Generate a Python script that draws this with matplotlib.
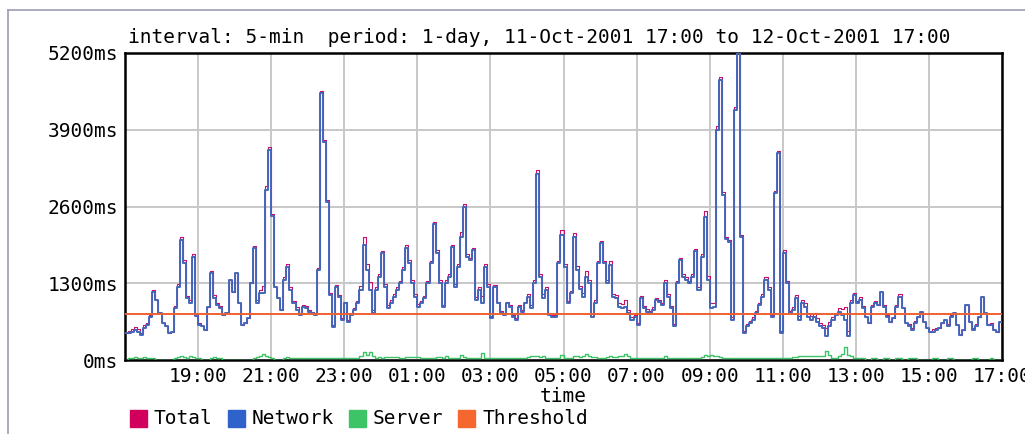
import numpy as np
import matplotlib
matplotlib.use("Agg")
import matplotlib.pyplot as plt
from matplotlib.patches import Rectangle
from matplotlib.lines import Line2D

# 5-minute response times (ms), 11-Oct-2001 17:00 -> 12-Oct-2001 17:00, one row per hour
network_ms = [
    450, 450, 480, 510, 480, 420, 540, 590, 730, 1150, 1020, 790,      # 17:00
    620, 570, 450, 480, 880, 1240, 2030, 1640, 1050, 960, 1750, 740,   # 18:00
    590, 570, 510, 900, 1470, 1050, 930, 880, 760, 790, 1360, 1160,    # 19:00
    1470, 960, 590, 620, 710, 1300, 1890, 960, 1130, 1140, 2880, 3550, # 20:00
    2440, 1240, 1050, 850, 1360, 1580, 1190, 960, 850, 760, 900, 880,  # 21:00
    820, 790, 760, 1530, 4520, 3700, 2680, 1100, 560, 1240, 1070, 680, # 22:00
    960, 650, 760, 850, 960, 1190, 1950, 1530, 1190, 790, 1190, 1410,  # 23:00
    1810, 1240, 880, 960, 1070, 1190, 1300, 1530, 1890, 1640, 1300, 1070,  # 00:00
    900, 960, 1050, 1300, 1640, 2300, 1810, 1300, 900, 1300, 1410, 1920,   # 01:00
    1240, 1580, 2090, 2600, 1750, 1690, 1860, 1020, 1190, 960, 1580, 1240, # 02:00
    710, 1240, 960, 790, 760, 960, 900, 730, 680, 900, 820, 960,       # 03:00
    1070, 880, 1300, 3150, 1400, 1050, 1190, 760, 730, 730, 1640, 2120,   # 04:00
    1580, 960, 1130, 2090, 1530, 1210, 1070, 1410, 1300, 730, 960, 1640,  # 05:00
    1980, 1640, 1300, 1610, 1070, 1050, 900, 880, 900, 790, 680, 730,     # 06:00
    590, 1050, 880, 820, 790, 850, 1020, 990, 930, 1300, 1070, 880,       # 07:00
    570, 1300, 1690, 1410, 1360, 1300, 1410, 1840, 1190, 1750, 2430, 1360,  # 08:00
    880, 900, 3900, 4740, 2800, 2050, 2000, 680, 4240, 5200, 2080, 450,     # 09:00
    570, 620, 680, 790, 930, 1070, 1360, 1190, 730, 2830, 3500, 450,       # 10:00
    1820, 1300, 790, 850, 1050, 680, 960, 900, 730, 680, 730, 650,         # 11:00
    570, 540, 400, 570, 680, 760, 820, 760, 680, 400, 960, 1100,           # 12:00
    960, 1020, 880, 730, 620, 900, 960, 930, 1160, 900, 730, 650,          # 13:00
    710, 900, 1070, 880, 620, 570, 510, 620, 730, 820, 650, 540,           # 14:00
    480, 480, 510, 540, 620, 680, 570, 730, 790, 590, 420, 510,            # 15:00
    930, 650, 510, 570, 730, 1070, 790, 590, 590, 510, 480, 650,           # 16:00
]
server_ms = [
    0, 40, 40, 50, 40, 40, 50, 40, 40, 40, 0, 0,
    0, 0, 0, 0, 40, 50, 60, 50, 40, 60, 50, 40,
    40, 0, 0, 0, 40, 50, 40, 40, 0, 0, 0, 0,
    0, 0, 0, 0, 0, 0, 40, 50, 60, 110, 60, 50,
    40, 0, 0, 0, 40, 50, 40, 40, 40, 30, 30, 30,
    30, 30, 30, 30, 30, 30, 30, 30, 30, 30, 30, 30,
    30, 30, 30, 30, 40, 60, 140, 90, 130, 60, 40, 50,
    40, 50, 50, 50, 50, 50, 40, 40, 50, 50, 50, 50,
    50, 40, 40, 30, 40, 40, 50, 50, 40, 60, 40, 30,
    40, 40, 80, 50, 40, 30, 30, 40, 40, 120, 40, 40,
    30, 30, 30, 40, 30, 30, 30, 40, 30, 30, 30, 30,
    50, 60, 60, 60, 50, 60, 40, 40, 30, 30, 40, 80,
    40, 40, 40, 60, 60, 50, 60, 100, 60, 50, 50, 40,
    40, 40, 50, 60, 50, 50, 60, 70, 110, 60, 40, 40,
    40, 40, 40, 40, 40, 40, 30, 30, 40, 60, 40, 40,
    40, 40, 40, 40, 40, 40, 40, 40, 40, 50, 90, 70,
    90, 70, 60, 50, 40, 40, 40, 40, 40, 40, 40, 40,
    40, 40, 40, 40, 40, 40, 40, 40, 40, 40, 40, 40,
    40, 40, 40, 50, 50, 60, 60, 60, 60, 60, 60, 60,
    60, 60, 150, 80, 40, 40, 60, 100, 220, 90, 60, 40,
    40, 40, 40, 0, 0, 40, 40, 0, 0, 40, 40, 0,
    0, 40, 40, 0, 0, 40, 40, 40, 0, 0, 0, 0,
    0, 40, 40, 0, 0, 0, 40, 40, 0, 0, 0, 0,
    0, 0, 40, 40, 0, 0, 0, 0, 40, 0, 0, 0,
]
threshold_ms = 775

y_ticks = [0, 1300, 2600, 3900, 5200]
hour_ticks = [2, 4, 6, 8, 10, 12, 14, 16, 18, 20, 22, 24]
hour_labels = ["19:00", "21:00", "23:00", "01:00", "03:00", "05:00",
               "07:00", "09:00", "11:00", "13:00", "15:00", "17:00"]
legend_names = ["Total", "Network", "Server", "Threshold"]
legend_colors = ["#d0005c", "#3062cc", "#3cc466", "#f5672f"]

title = "interval: 5-min  period: 1-day, 11-Oct-2001 17:00 to 12-Oct-2001 17:00"

mono = "DejaVu Sans Mono"
fsize = 14

W, H = 1025, 434
fig = plt.figure(figsize=(W / 100, H / 100), dpi=100)
fig.patch.set_facecolor("white")
ax = fig.add_axes([125 / W, 1 - 360 / H, 877 / W, 307 / H])

network = np.array(network_ms, dtype=float)
server = np.array(server_ms, dtype=float)
total = network + server
hours = np.arange(len(network) + 1) * 5 / 60.0


def stepped(v):
    return np.append(v, v[-1])


ax.plot(hours, stepped(total), drawstyle="steps-post", color="#c8106a", lw=0.8, zorder=3)
ax.plot(hours, stepped(network), drawstyle="steps-post", color="#4466bb", lw=1.4, zorder=4)
ax.plot(hours, stepped(server), drawstyle="steps-post", color="#3cc466", lw=1.0, zorder=3)
ax.axhline(threshold_ms, color="#f06030", lw=1.4, zorder=5)

ax.set_xlim(0, 24)
ax.set_ylim(0, 5200)
ax.set_yticks(y_ticks)
ax.set_yticklabels([f"{v}ms" for v in y_ticks], fontfamily=mono, fontsize=fsize)
ax.set_xticks(hour_ticks)
ax.set_xticklabels(hour_labels, fontfamily=mono, fontsize=fsize)
ax.tick_params(length=0, pad=5)
ax.grid(True, color="#c8c8c8", lw=1.4, zorder=1)
ax.set_axisbelow(True)
for s in ax.spines.values():
    s.set_linewidth(1.8)
    s.set_color("black")

ax.text(0.003, 1.02, title, transform=ax.transAxes, ha="left", va="bottom",
        fontfamily=mono, fontsize=fsize)
fig.text(563.5 / W, 1 - 396 / H, "time", ha="center", va="center",
         fontfamily=mono, fontsize=fsize)

# legend row
char_w = 11.9
x = 130
for name, col in zip(legend_names, legend_colors):
    fig.patches.append(Rectangle((x / W, 1 - 427 / H), 17 / W, 17 / H,
                                 transform=fig.transFigure, color=col))
    fig.text((x + 24) / W, 1 - 418 / H, name, ha="left", va="center",
             fontfamily=mono, fontsize=fsize)
    x += 17 + 8 + len(name) * char_w + 13

# page frame around the chart
fig.add_artist(Line2D([7.5 / W, 7.5 / W], [0, 1 - 10 / H], color="#9c9cb8", lw=1.2,
                      transform=fig.transFigure))
fig.add_artist(Line2D([7.5 / W, 1], [1 - 10 / H, 1 - 10 / H], color="#9c9cb8", lw=1.2,
                      transform=fig.transFigure))

fig.savefig("out.png", dpi=100)
